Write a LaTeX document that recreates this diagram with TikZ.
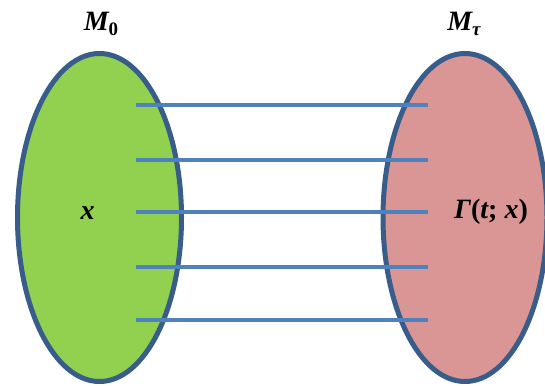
\documentclass[tikz,border=0pt]{standalone}
\usepackage{fontspec}
\setmainfont{Liberation Serif}
\definecolor{lgreen}{HTML}{92D050}
\definecolor{lpink}{HTML}{D99694}
\definecolor{edge}{HTML}{385D8A}
\definecolor{link}{HTML}{4F81BD}
\tikzset{
  setshape/.style={draw=edge, line width=5pt},
  linkline/.style={draw=link, line width=3.5pt},
  lbl/.style={font=\fontsize{28}{28}\selectfont\bfseries\itshape, inner sep=0pt},
}
\newcommand{\subsc}[1]{\raisebox{-0.35ex}{\fontsize{19}{19}\selectfont #1}}
\begin{document}
\begin{tikzpicture}[x=1pt,y=-1pt]
\useasboundingbox (0,0) rectangle (545,385);
\clip (0,0) rectangle (545,385);
\fill[white] (0,0) rectangle (545,385);
\path[setshape, fill=lgreen] (99.5,217.5) ellipse [x radius=82, y radius=164];
\path[setshape, fill=lpink] (465,217.5) ellipse [x radius=82, y radius=164];
\foreach \i/\y in {1/105,2/160,3/212,4/267,5/320}{
  \coordinate (a\i) at (136,\y);
  \coordinate (b\i) at (428,\y);
  \draw[linkline] (a\i) -- (b\i);
}
\node[lbl] (m0) at (101,24) {M\subsc{\upshape 0}};
\node[lbl] (mt) at (464,24) {M\subsc{τ}};
\node[lbl] (x) at (87.5,213) {x};
\node[lbl] (g) at (491,212) {Γ\upshape(\itshape t\upshape; \itshape x\upshape)};
\end{tikzpicture}
\end{document}
